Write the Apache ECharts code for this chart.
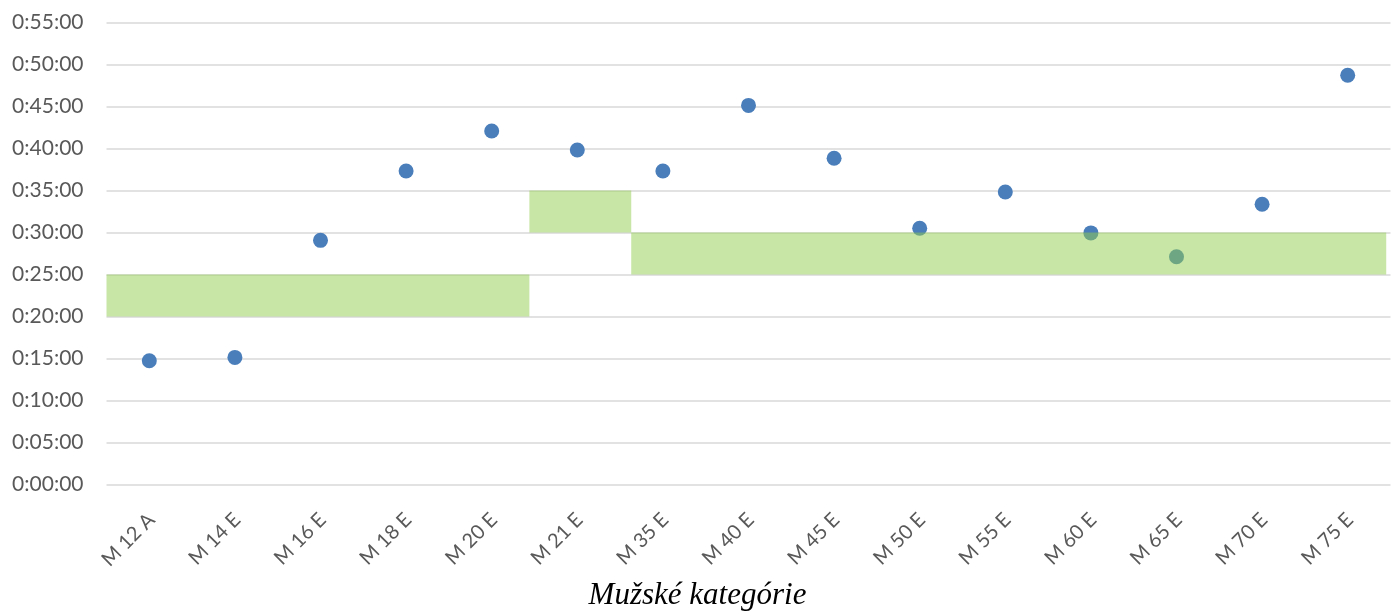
<!DOCTYPE html>
<html>
<head>
<meta charset="utf-8">
<script src="https://cdn.jsdelivr.net/npm/echarts@6/dist/echarts.min.js"></script>
<style>html,body{margin:0;padding:0;background:#fff}#c{width:1395px;height:615px}</style>
</head>
<body>
<div id="c"></div>
<script>
// Categories (x axis)
var categories = ['M 12 A','M 14 E','M 16 E','M 18 E','M 20 E','M 21 E','M 35 E','M 40 E','M 45 E','M 50 E','M 55 E','M 60 E','M 65 E','M 70 E','M 75 E'];
// Times (h:mm:ss) for each category
var times = ['0:14:44','0:15:08','0:29:04','0:37:19','0:42:05','0:39:49','0:37:19','0:45:08','0:38:50','0:30:30','0:34:49','0:29:57','0:27:07','0:33:22','0:48:43'];
// Green target bands: start/end in category units on a secondary axis, low/high times
var bandStart = [0, 4.94, 6.13];
var bandEnd   = [4.94, 6.13, 14.95];
var bandLow   = ['0:20:00','0:30:00','0:25:00'];
var bandHigh  = ['0:25:00','0:35:00','0:30:00'];
// Y axis ticks
var yMin = '0:00:00', yMax = '0:55:00', yStep = '0:05:00';

function toSec(s){var p=s.split(':').map(Number);return p[0]*3600+p[1]*60+p[2];}
function fmt(v){var h=Math.floor(v/3600),m=Math.floor((v%3600)/60),s=Math.round(v%60);return h+':'+(m<10?'0':'')+m+':'+(s<10?'0':'')+s;}

var pointData = times.map(toSec);
var bandData = bandStart.map(function(s,i){return [s, bandEnd[i], toSec(bandLow[i]), toSec(bandHigh[i])];});

var chart = echarts.init(document.getElementById('c'), null, {renderer:'canvas'});
chart.setOption({
  animation:false,
  title:{text:'Mužské kategórie', left:'center', top:575,
    textStyle:{fontFamily:'Liberation Serif', fontStyle:'italic', fontWeight:'normal', fontSize:31, color:'#000'}},
  grid:{left:106.5, right:4.5, top:22.5, bottom:130.5},
  xAxis:[{
    type:'category', data:categories, boundaryGap:true,
    axisLine:{show:false}, axisTick:{show:false},
    axisLabel:{rotate:45, margin:20, verticalAlign:'top', lineHeight:20, padding:[0,7,0,0], fontFamily:'Lato', fontSize:20, color:'#595959', interval:0}
  },{
    type:'value', min:0, max:15, show:false
  }],
  yAxis:{
    type:'value', min:toSec(yMin), max:toSec(yMax), interval:toSec(yStep),
    axisLine:{show:false}, axisTick:{show:false},
    axisLabel:{formatter:fmt, fontFamily:'Lato', fontSize:21, color:'#595959', margin:23},
    splitLine:{lineStyle:{color:'#d9d9d9', width:1.6}}
  },
  series:[{
    type:'scatter', data:pointData, symbolSize:15, z:2,
    itemStyle:{color:'#4a7ebb', opacity:1}
  },{
    type:'custom', xAxisIndex:1, data:bandData, z:3,
    renderItem:function(params, api){
      var p1 = api.coord([api.value(0), api.value(3)]);
      var p2 = api.coord([api.value(1), api.value(2)]);
      return {type:'rect', shape:{x:p1[0], y:p1[1], width:p2[0]-p1[0], height:p2[1]-p1[1]},
        style:{fill:'rgba(145,205,77,0.5)'}};
    },
    encode:{x:[0,1], y:[2,3]}
  }]
});
</script>
</body>
</html>
